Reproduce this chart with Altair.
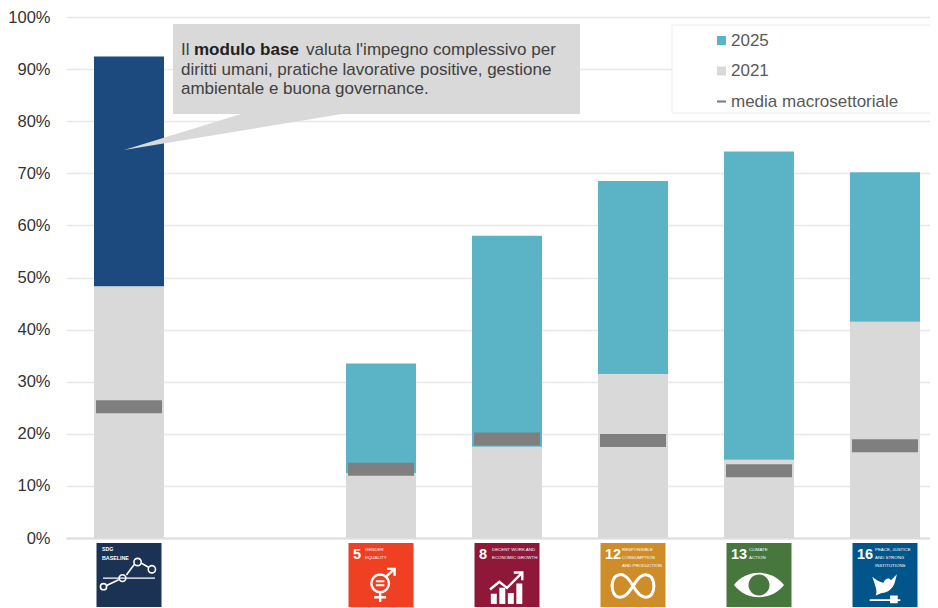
import altair as alt
import pandas as pd

categories = ["SDG Baseline", "(vuoto)", "SDG 5", "SDG 8", "SDG 12", "SDG 13", "SDG 16"]
goals = ["SDG Baseline", "SDG 5", "SDG 8", "SDG 12", "SDG 13", "SDG 16"]
values_2021 = [0.483, 0.125, 0.175, 0.315, 0.150, 0.415]
values_2025 = [0.924, 0.335, 0.580, 0.685, 0.742, 0.702]
values_media = [0.252, 0.132, 0.190, 0.187, 0.129, 0.177]
second_series = ["modulo base", "2025", "2025", "2025", "2025", "2025"]
icon_numbers = ["", "5", "8", "12", "13", "16"]
icon_labels = ["SDG\nBASELINE", "GENDER\nEQUALITY", "DECENT WORK AND\nECONOMIC GROWTH",
               "RESPONSIBLE\nCONSUMPTION\nAND PRODUCTION", "CLIMATE\nACTION",
               "PEACE, JUSTICE\nAND STRONG\nINSTITUTIONS"]
icon_colors = ["#1c3254", "#ef4023", "#8f1838", "#cf8d2a", "#48773e", "#02558b"]
series_names = ["2025", "2021", "media macrosettoriale", "modulo base"]
series_colors = ["#5ab4c5", "#d9d9d9", "#7f7f7f", "#1d4a7e"]

FONT = "Liberation Sans"
TEXT = "#404040"

SQUARE = "M-1,-1H1V1H-1Z"
DASH = "M-1,-0.24H1V0.24H-1Z"


def circle(x, y, r):
    return f"M{x+r},{y}A{r},{r} 0 1 1 {x-r},{y}A{r},{r} 0 1 1 {x+r},{y}Z"


xscale = alt.Scale(domain=categories, range=[0, 882])
xenc = alt.X("cat:N", sort=categories, scale=xscale,
             axis=alt.Axis(title=None, labels=False, ticks=False, domain=True,
                           domainColor="#dedede", domainWidth=2, grid=False))
yscale = alt.Scale(domain=[0, 1])
yenc = alt.Y("lo:Q", scale=yscale,
             axis=alt.Axis(title=None, format=".0%", values=[i / 10 for i in range(11)],
                           ticks=False, domain=False, labelFontSize=16.5, labelFont=FONT,
                           labelColor="#333333", labelPadding=16, gridColor="#e8e8e8",
                           gridWidth=1.5))
color = alt.Color("series:N", scale=alt.Scale(domain=series_names, range=series_colors),
                  legend=alt.Legend(title=None, orient="none", legendX=647, legendY=15,
                                    values=series_names[:3], symbolSize=81, labelFontSize=17,
                                    labelFont=FONT, labelColor="#595959", labelOffset=1,
                                    rowPadding=12.5, padding=0, fillColor="transparent",
                                    symbolStrokeWidth=0, labelLimit=300))
shape = alt.Shape("series:N", scale=alt.Scale(domain=series_names,
                                              range=[SQUARE, SQUARE, DASH, SQUARE]))

bars = pd.DataFrame(
    [{"cat": c, "series": "2021", "lo": 0, "hi": v} for c, v in zip(goals, values_2021)]
    + [{"cat": c, "series": s, "lo": a, "hi": b}
       for c, s, a, b in zip(goals, second_series, values_2021, values_2025)])
media = pd.DataFrame({"cat": goals, "series": "media macrosettoriale", "lo": values_media})
icons = pd.DataFrame({"cat": goals, "number": icon_numbers, "label": icon_labels, "fill": icon_colors})

xplain = alt.X("cat:N", sort=categories, scale=xscale)

bar_layer = alt.Chart(bars).mark_bar(size=70, opacity=1).encode(x=xenc, y=yenc, y2="hi:Q", color=color)
tick_layer = alt.Chart(media).mark_tick(size=66, thickness=13, opacity=1).encode(
    x=xplain, y=alt.Y("lo:Q", scale=yscale), color=color)

legend_points = pd.DataFrame({"cat": goals[0], "lo": 0, "series": series_names})
legend_layer = alt.Chart(legend_points).mark_point(filled=True, size=0, opacity=1).encode(
    x=xplain, y=alt.Y("lo:Q", scale=yscale), color=color, shape=shape)

one = pd.DataFrame({"k": [0]})

# legend box
legend_box = alt.Chart(one).mark_rect(fill="white", stroke="#ececec", strokeWidth=1).encode(
    x=alt.value(606), x2=alt.value(874), y=alt.value(8), y2=alt.value(96))

# callout (rectangle + tail), anchored on the tail tip, 0.01 unit = 1px
callout_path = "M0,0L1.17,-0.36L0.49,-0.36L0.49,-1.26L4.56,-1.26L4.56,-0.36L2.18,-0.36Z"
callout = alt.Chart(one).mark_point(shape=callout_path, size=40000, filled=True, opacity=1,
                                    fill="#d9d9d9", strokeWidth=0).encode(
    x=alt.value(58), y=alt.value(133))


def callout_text(txt, px, py, bold=False):
    return alt.Chart(one).mark_text(text=txt, align="left", baseline="middle", font=FONT, fontSize=17,
                                    fontWeight="bold" if bold else "normal",
                                    color="#222222" if bold else TEXT).encode(
        x=alt.value(px - 66), y=alt.value(py - 17))


callout_texts = [
    callout_text("Il", 181, 50),
    callout_text("modulo base", 194, 50, True),
    callout_text("valuta l'impegno complessivo per", 306, 50),
    callout_text("diritti umani, pratiche lavorative positive, gestione", 181, 70),
    callout_text("ambientale e buona governance.", 181, 89),
]

# SDG icons
icon_rect = alt.Chart(icons).mark_bar(size=65, opacity=1).encode(
    x=xplain, y=alt.value(526), y2=alt.value(590), fill=alt.Fill("fill:N", scale=None))
icon_num = alt.Chart(icons).mark_text(align="left", baseline="middle", dx=-28, font=FONT,
                                      fontWeight="bold", fontSize=14.5, color="white").encode(
    x=xplain, y=alt.value(538), text="number:N")


def icon_label(cat, dx):
    return alt.Chart(icons[icons.cat == cat]).mark_text(
        align="left", baseline="top", dx=dx, font=FONT, fontSize=4.4, lineHeight=8, lineBreak="\n",
        color="white").encode(x=xplain, y=alt.value(531), text="label:N")


icon_labs = [icon_label("SDG 5", -16), icon_label("SDG 8", -15), icon_label("SDG 12", -11),
             icon_label("SDG 13", -10), icon_label("SDG 16", -10)]
icon_lab_0 = alt.Chart(icons[icons.number == ""]).mark_text(
    align="left", baseline="top", dx=-27, font=FONT, fontWeight="bold", fontSize=5.3, lineHeight=9,
    lineBreak="\n", color="white").encode(x=xplain, y=alt.value(530), text="label:N")


def glyph(cat, path, px_size, py, filled=True, sw=1.6, col="white"):
    kw = dict(fill=col, strokeWidth=0) if filled else dict(stroke=col, strokeWidth=sw, fill="transparent")
    return alt.Chart(pd.DataFrame({"cat": [cat]})).mark_point(
        shape=path, size=px_size ** 2, filled=filled, opacity=1, **kw).encode(
        x=xplain, y=alt.value(py - 17))


base_line = ("M-0.9,0.42L-0.4,0.18" "M-0.1,0.0L0.2,-0.4" "M0.48,-0.45L0.75,-0.3"
             + circle(-0.98, 0.45, 0.12) + circle(-0.25, 0.12, 0.13)
             + circle(0.33, -0.5, 0.14) + circle(0.88, -0.22, 0.14))
base_dash = "M-1,0.12H1"
gender = (circle(-0.05, -0.1, 0.52)
          + "M-0.05,0.42V1M-0.4,0.72H0.3M0.3,-0.5L0.8,-0.95M0.35,-0.95H0.8V-0.55")
gender_eq = "M-0.3,-0.22H0.2M-0.3,0.02H0.2"
growth = ("M-1,0.15L-0.45,-0.3L0,0.05L0.85,-0.8M0.4,-0.85H0.9V-0.4")
growth_bars = ("M-0.95,0.4H-0.6V1H-0.95Z" "M-0.45,0.05H-0.1V1H-0.45Z" "M0.05,0.35H0.4V1H0.05Z"
               "M0.55,-0.2H0.9V1H0.55Z")
infinity = ("M0,0C-0.3,-0.55 -0.55,-0.55 -0.65,-0.5C-1.05,-0.45 -1.05,0.45 -0.65,0.5"
            "C-0.35,0.55 -0.2,0.3 0,0C0.2,-0.3 0.35,-0.55 0.65,-0.5C1.05,-0.45 1.05,0.45 0.65,0.5"
            "C0.35,0.55 0.2,0.3 0,0")
eye = "M-1,0C-0.5,-0.65 0.5,-0.65 1,0C0.5,0.65 -0.5,0.65 -1,0Z"
dove = ("M-0.75,-0.6C-0.45,-0.35 -0.3,-0.3 -0.1,-0.25C0.05,-0.55 0.25,-0.55 0.35,-0.4L0.7,-0.75"
        "L0.6,-0.35C0.5,0.05 0.2,0.35 -0.2,0.35L-0.55,0.5C-0.45,0.3 -0.5,0.1 -0.75,-0.6Z"
        "M-0.9,0.72H0.9V0.82H-0.9Z" "M0.3,0.5H0.75V0.95H0.3Z")

glyphs = [
    glyph("SDG Baseline", base_line, 52, 575, filled=False),
    glyph("SDG Baseline", base_dash, 52, 575, filled=False, sw=1.2),
    glyph("SDG 5", gender, 34, 585, filled=False, sw=2.4),
    glyph("SDG 5", gender_eq, 34, 585, filled=False, sw=2),
    glyph("SDG 8", growth, 34, 587, filled=False, sw=2.4),
    glyph("SDG 8", growth_bars, 34, 587),
    glyph("SDG 12", infinity, 44, 586, filled=False, sw=3),
    glyph("SDG 13", eye, 50, 585),
    glyph("SDG 13", circle(0, 0, 1), 21, 585, col="#48773e"),
    glyph("SDG 16", dove, 34, 587),
]

chart = alt.layer(
    bar_layer, tick_layer, legend_layer, legend_box, callout, *callout_texts,
    icon_rect, icon_num, *icon_labs, icon_lab_0, *glyphs
).properties(
    width=864, height=521,
    autosize=alt.AutoSizeParams(type="none"),
    padding={"left": 58, "top": 9, "right": 0, "bottom": 70},
    background="white"
).configure_view(stroke=None)

chart.save("out.html", embed_options={"renderer": "svg", "actions": False})
